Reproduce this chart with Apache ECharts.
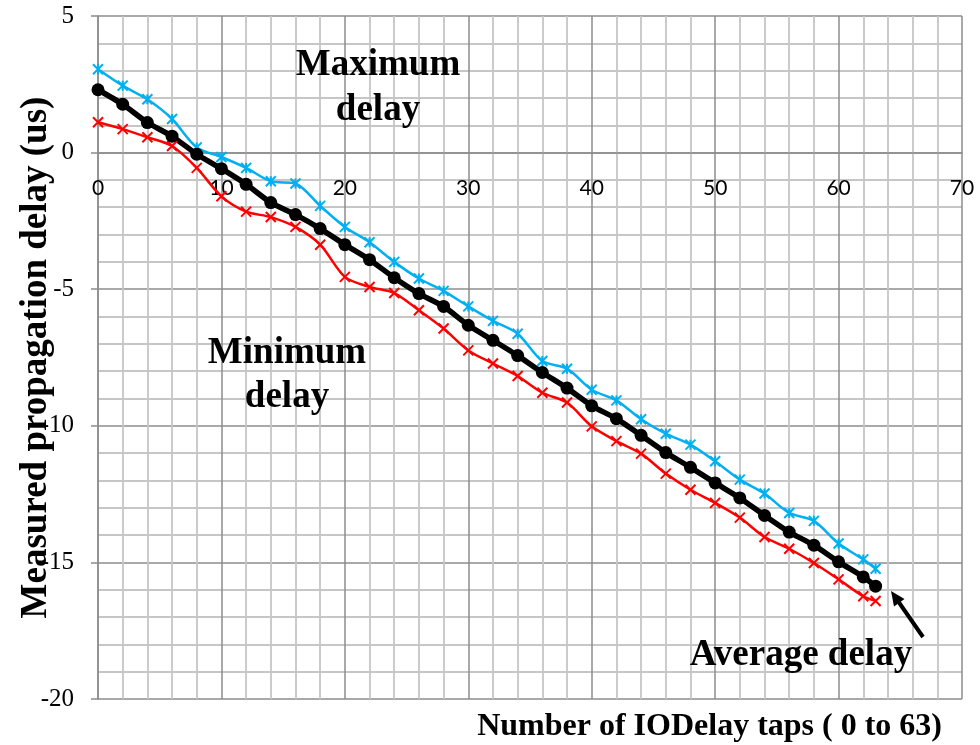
<!DOCTYPE html>
<html>
<head>
<meta charset="utf-8">
<script src="https://cdn.jsdelivr.net/npm/echarts@6/dist/echarts.min.js"></script>
<style>
html,body{margin:0;padding:0;background:#fff;}
#chart{width:980px;height:745px;}
</style>
</head>
<body>
<div id="chart"></div>
<script>
// Data
var taps = [0,2,4,6,8,10,12,14,16,18,20,22,24,26,28,30,32,34,36,38,40,42,44,46,48,50,52,54,56,58,60,62,63];
var maxDelay = [3.05,2.45,1.95,1.23,0.19,-0.16,-0.56,-1.05,-1.13,-1.95,-2.72,-3.28,-4.0,-4.61,-5.06,-5.63,-6.16,-6.63,-7.63,-7.91,-8.68,-9.07,-9.76,-10.29,-10.69,-11.3,-11.97,-12.48,-13.19,-13.48,-14.31,-14.89,-15.23];
var avgDelay = [2.3,1.77,1.1,0.6,-0.06,-0.59,-1.16,-1.83,-2.27,-2.78,-3.37,-3.92,-4.58,-5.16,-5.63,-6.32,-6.87,-7.43,-8.05,-8.62,-9.27,-9.74,-10.35,-10.98,-11.52,-12.09,-12.64,-13.28,-13.89,-14.37,-14.98,-15.53,-15.87];
var minDelay = [1.11,0.86,0.56,0.24,-0.56,-1.6,-2.16,-2.36,-2.72,-3.37,-4.55,-4.92,-5.14,-5.77,-6.44,-7.24,-7.72,-8.18,-8.79,-9.15,-10.02,-10.56,-11.02,-11.75,-12.34,-12.82,-13.36,-14.07,-14.5,-15.02,-15.62,-16.24,-16.41];
var xTicks = {min: 0, max: 70, interval: 10};
var yTicks = {min: -20, max: 5, interval: 5};
var yTitle = 'Measured propagation delay (us)';
var xTitle = 'Number of IODelay taps ( 0 to 63)';

function pairs(ys){ return taps.map(function(x,i){ return [x, ys[i]]; }); }

var starPath = 'path://M0,0L10,10M10,0L0,10M5,0L5,10';
var crossPath = 'path://M0,0L10,10M10,0L0,10';

var chart = echarts.init(document.getElementById('chart'), null, {renderer:'canvas'});
var majorColor = '#8c8c8c', minorColor = '#c6c6c6';
var serif = '"Liberation Serif","Times New Roman",serif';

chart.setOption({
  backgroundColor:'#ffffff',
  animation:false,
  grid:{left:98, top:16, right:18, bottom:46, containLabel:false, outerBoundsMode:'none'},
  xAxis:{
    type:'value', min:xTicks.min, max:xTicks.max, interval:xTicks.interval,
    position:'bottom', offset:-546,
    axisLine:{show:true, onZero:false, lineStyle:{color:majorColor, width:1.5}},
    axisTick:{show:false},
    axisLabel:{color:'#000', fontFamily:'Lato', fontSize:21, margin:25},
    splitLine:{show:true, lineStyle:{color:majorColor, width:1.5}},
    minorTick:{show:false, splitNumber:5},
    minorSplitLine:{show:true, lineStyle:{color:minorColor, width:1.8}}
  },
  yAxis:{
    type:'value', min:yTicks.min, max:yTicks.max, interval:yTicks.interval,
    name:yTitle, nameLocation:'middle', nameRotate:90, nameGap:43, nameMoveOverlap:false,
    nameTextStyle:{fontFamily:serif, fontWeight:'bold', fontSize:37, color:'#000'},
    axisLine:{show:true, onZero:false, lineStyle:{color:majorColor, width:1.5}},
    axisTick:{show:true, inside:false, length:7, lineStyle:{color:majorColor, width:1.5}},
    axisLabel:{color:'#000', fontFamily:serif, fontSize:25, margin:24},
    splitLine:{show:true, lineStyle:{color:majorColor, width:1.5}},
    minorTick:{show:false, splitNumber:5},
    minorSplitLine:{show:true, lineStyle:{color:minorColor, width:1.8}}
  },
  series:[
    {
      name:'Maximum delay', type:'line', data:pairs(maxDelay), smooth:0.3,
      symbol:starPath, symbolSize:10,
      lineStyle:{color:'#00B0F0', width:2.5},
      itemStyle:{color:'none', borderColor:'#00B0F0', borderWidth:2}
    },
    {
      name:'Minimum delay', type:'line', data:pairs(minDelay), smooth:0.3,
      symbol:crossPath, symbolSize:10,
      lineStyle:{color:'#FF0000', width:2.5},
      itemStyle:{color:'none', borderColor:'#FF0000', borderWidth:2}
    },
    {
      name:'Average delay', type:'line', data:pairs(avgDelay), smooth:0.2,
      symbol:'circle', symbolSize:13,
      lineStyle:{color:'#000', width:5.5},
      itemStyle:{color:'#000'}
    }
  ],
  graphic:[
    {type:'text', z:100, style:{text:'Maximum', x:378, y:65, textAlign:'center', textVerticalAlign:'middle', font:'bold 37px '+serif, fill:'#000'}},
    {type:'text', z:100, style:{text:'delay', x:378, y:110, textAlign:'center', textVerticalAlign:'middle', font:'bold 37px '+serif, fill:'#000'}},
    {type:'text', z:100, style:{text:'Minimum', x:287, y:353, textAlign:'center', textVerticalAlign:'middle', font:'bold 37px '+serif, fill:'#000'}},
    {type:'text', z:100, style:{text:'delay', x:287, y:397, textAlign:'center', textVerticalAlign:'middle', font:'bold 37px '+serif, fill:'#000'}},
    {type:'text', z:100, style:{text:'Average delay', x:801, y:655, textAlign:'center', textVerticalAlign:'middle', font:'bold 37px '+serif, fill:'#000'}},
    {type:'text', z:100, style:{text:xTitle, x:942, y:727, textAlign:'right', textVerticalAlign:'middle', font:'bold 32px '+serif, fill:'#000'}},
    {type:'line', z:100, shape:{x1:923, y1:637, x2:899, y2:602.5}, style:{stroke:'#000', lineWidth:4}},
    {type:'polygon', z:100, shape:{points:[[891,591],[904.5,599],[894,606.5]]}, style:{fill:'#000'}}
  ]
});
</script>
</body>
</html>
